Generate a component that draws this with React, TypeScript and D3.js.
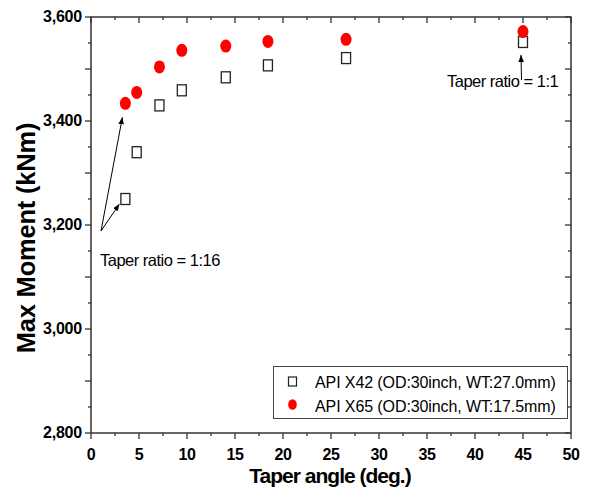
import * as d3 from "d3";

const angles = [3.58, 4.76, 7.13, 9.46, 14.04, 18.43, 26.57, 45];
const x42 = [3250, 3340, 3430, 3459, 3484, 3507, 3521, 3552];
const x65 = [3434, 3455, 3504, 3536, 3544, 3553, 3557, 3572];
const xTicks = [0, 5, 10, 15, 20, 25, 30, 35, 40, 45, 50];
const yTicks = [2800, 3000, 3200, 3400, 3600];
const legendLabels = [
  "API X42 (OD:30inch, WT:27.0mm)",
  "API X65 (OD:30inch, WT:17.5mm)",
];

const W = 589;
const H = 492;
const margin = { left: 91, right: 18, top: 17, bottom: 59 };

function App() {
  const x = d3.scaleLinear().domain([0, 50]).range([margin.left, W - margin.right]);
  const y = d3.scaleLinear().domain([2800, 3600]).range([H - margin.bottom, margin.top]);
  const x0 = x(0), x1 = x(50), y0 = y(2800), y1 = y(3600);
  const xMinor = d3.range(0, 50.01, 2.5);
  const yMinor = d3.range(2800, 3600.01, 50);
  const font = "Liberation Sans, Arial, sans-serif";

  return (
    <svg width={W} height={H} style={{ position: "absolute", left: 0, top: 0 }}>
      <defs>
        <marker id="ah" viewBox="0 0 10 10" refX="10" refY="5" markerWidth="7" markerHeight="7" orient="auto-start-reverse">
          <path d="M0,1 L10,5 L0,9 z" fill="#000" />
        </marker>
      </defs>
      <rect width={W} height={H} fill="#fff" />
      <g fontFamily={font}>
        {/* frame */}
        <rect x={x0} y={y1} width={x1 - x0} height={y0 - y1} fill="none" stroke="#333" strokeWidth={1.5} />
        {/* bottom/left ticks out, top/right ticks in */}
        {xMinor.map((t) => {
          const major = t % 5 === 0;
          return (
            <g key={"xt" + t} stroke="#333" strokeWidth={1.3}>
              <line x1={x(t)} x2={x(t)} y1={y0} y2={y0 + (major ? 6 : 3)} />
              <line x1={x(t)} x2={x(t)} y1={y1} y2={y1 + (major ? 6 : 3)} />
            </g>
          );
        })}
        {yMinor.map((t) => {
          const major = t % 100 === 0;
          return (
            <g key={"yt" + t} stroke="#333" strokeWidth={1.3}>
              <line x1={x0} x2={x0 - (major ? 6 : 3)} y1={y(t)} y2={y(t)} />
              <line x1={x1} x2={x1 - (major ? 6 : 3)} y1={y(t)} y2={y(t)} />
            </g>
          );
        })}
        {xTicks.map((t) => (
          <text key={"xl" + t} x={x(t)} y={y0 + 27} textAnchor="middle" fontSize={16} fontWeight="bold" letterSpacing={-0.3}>
            {t}
          </text>
        ))}
        {yTicks.map((t) => (
          <text key={"yl" + t} x={x0 - 9} y={y(t) + 5} textAnchor="end" fontSize={16} fontWeight="bold" letterSpacing={-0.2}>
            {d3.format(",")(t)}
          </text>
        ))}
        <text x={330} y={483} textAnchor="middle" fontSize={21} fontWeight="bold" letterSpacing={-1}>
          Taper angle (deg.)
        </text>
        <text transform={`translate(35,238) rotate(-90)`} textAnchor="middle" fontSize={25.5} fontWeight="bold" letterSpacing={-0.2}>
          Max Moment (kNm)
        </text>

        {/* data */}
        {angles.map((a, i) => (
          <rect key={"s" + i} x={x(a) - 4.5} y={y(x42[i]) - 5.5} width={9} height={11} fill="#fff" stroke="#222" strokeWidth={1.3} />
        ))}
        {angles.map((a, i) => (
          <ellipse key={"c" + i} cx={x(a)} cy={y(x65[i])} rx={5.5} ry={6.5} fill="#f00" />
        ))}

        {/* annotations */}
        <g stroke="#000" strokeWidth={1}>
          <line x1={101} y1={231} x2={x(angles[0]) - 3} y2={y(x65[0]) + 14} markerEnd="url(#ah)" />
          <line x1={101} y1={231} x2={x(angles[0]) - 6} y2={y(x42[0]) + 5} markerEnd="url(#ah)" />
          <line x1={x(45) - 1.5} y1={80} x2={x(45) - 2} y2={y(x42[7]) + 13} markerEnd="url(#ah)" />
        </g>
        <text x={100} y={266} fontSize={16.5} letterSpacing={-0.5}>Taper ratio = 1:16</text>
        <text x={447} y={87} fontSize={16.5} letterSpacing={-0.5}>Taper ratio = 1:1</text>

        {/* legend */}
        <rect x={273.5} y={366.5} width={294} height={52} fill="#fff" stroke="#444" strokeWidth={1} />
        <rect x={288.5} y={377} width={8} height={9} fill="#fff" stroke="#222" strokeWidth={1.2} />
        <ellipse cx={292.5} cy={404.5} rx={4.3} ry={5.3} fill="#f00" />
        {legendLabels.map((l, i) => (
          <text key={l} x={315} y={388.3 + i * 23.4} fontSize={16} letterSpacing={-0.1}>
            {l}
          </text>
        ))}
      </g>
    </svg>
  );
}

export default App;
